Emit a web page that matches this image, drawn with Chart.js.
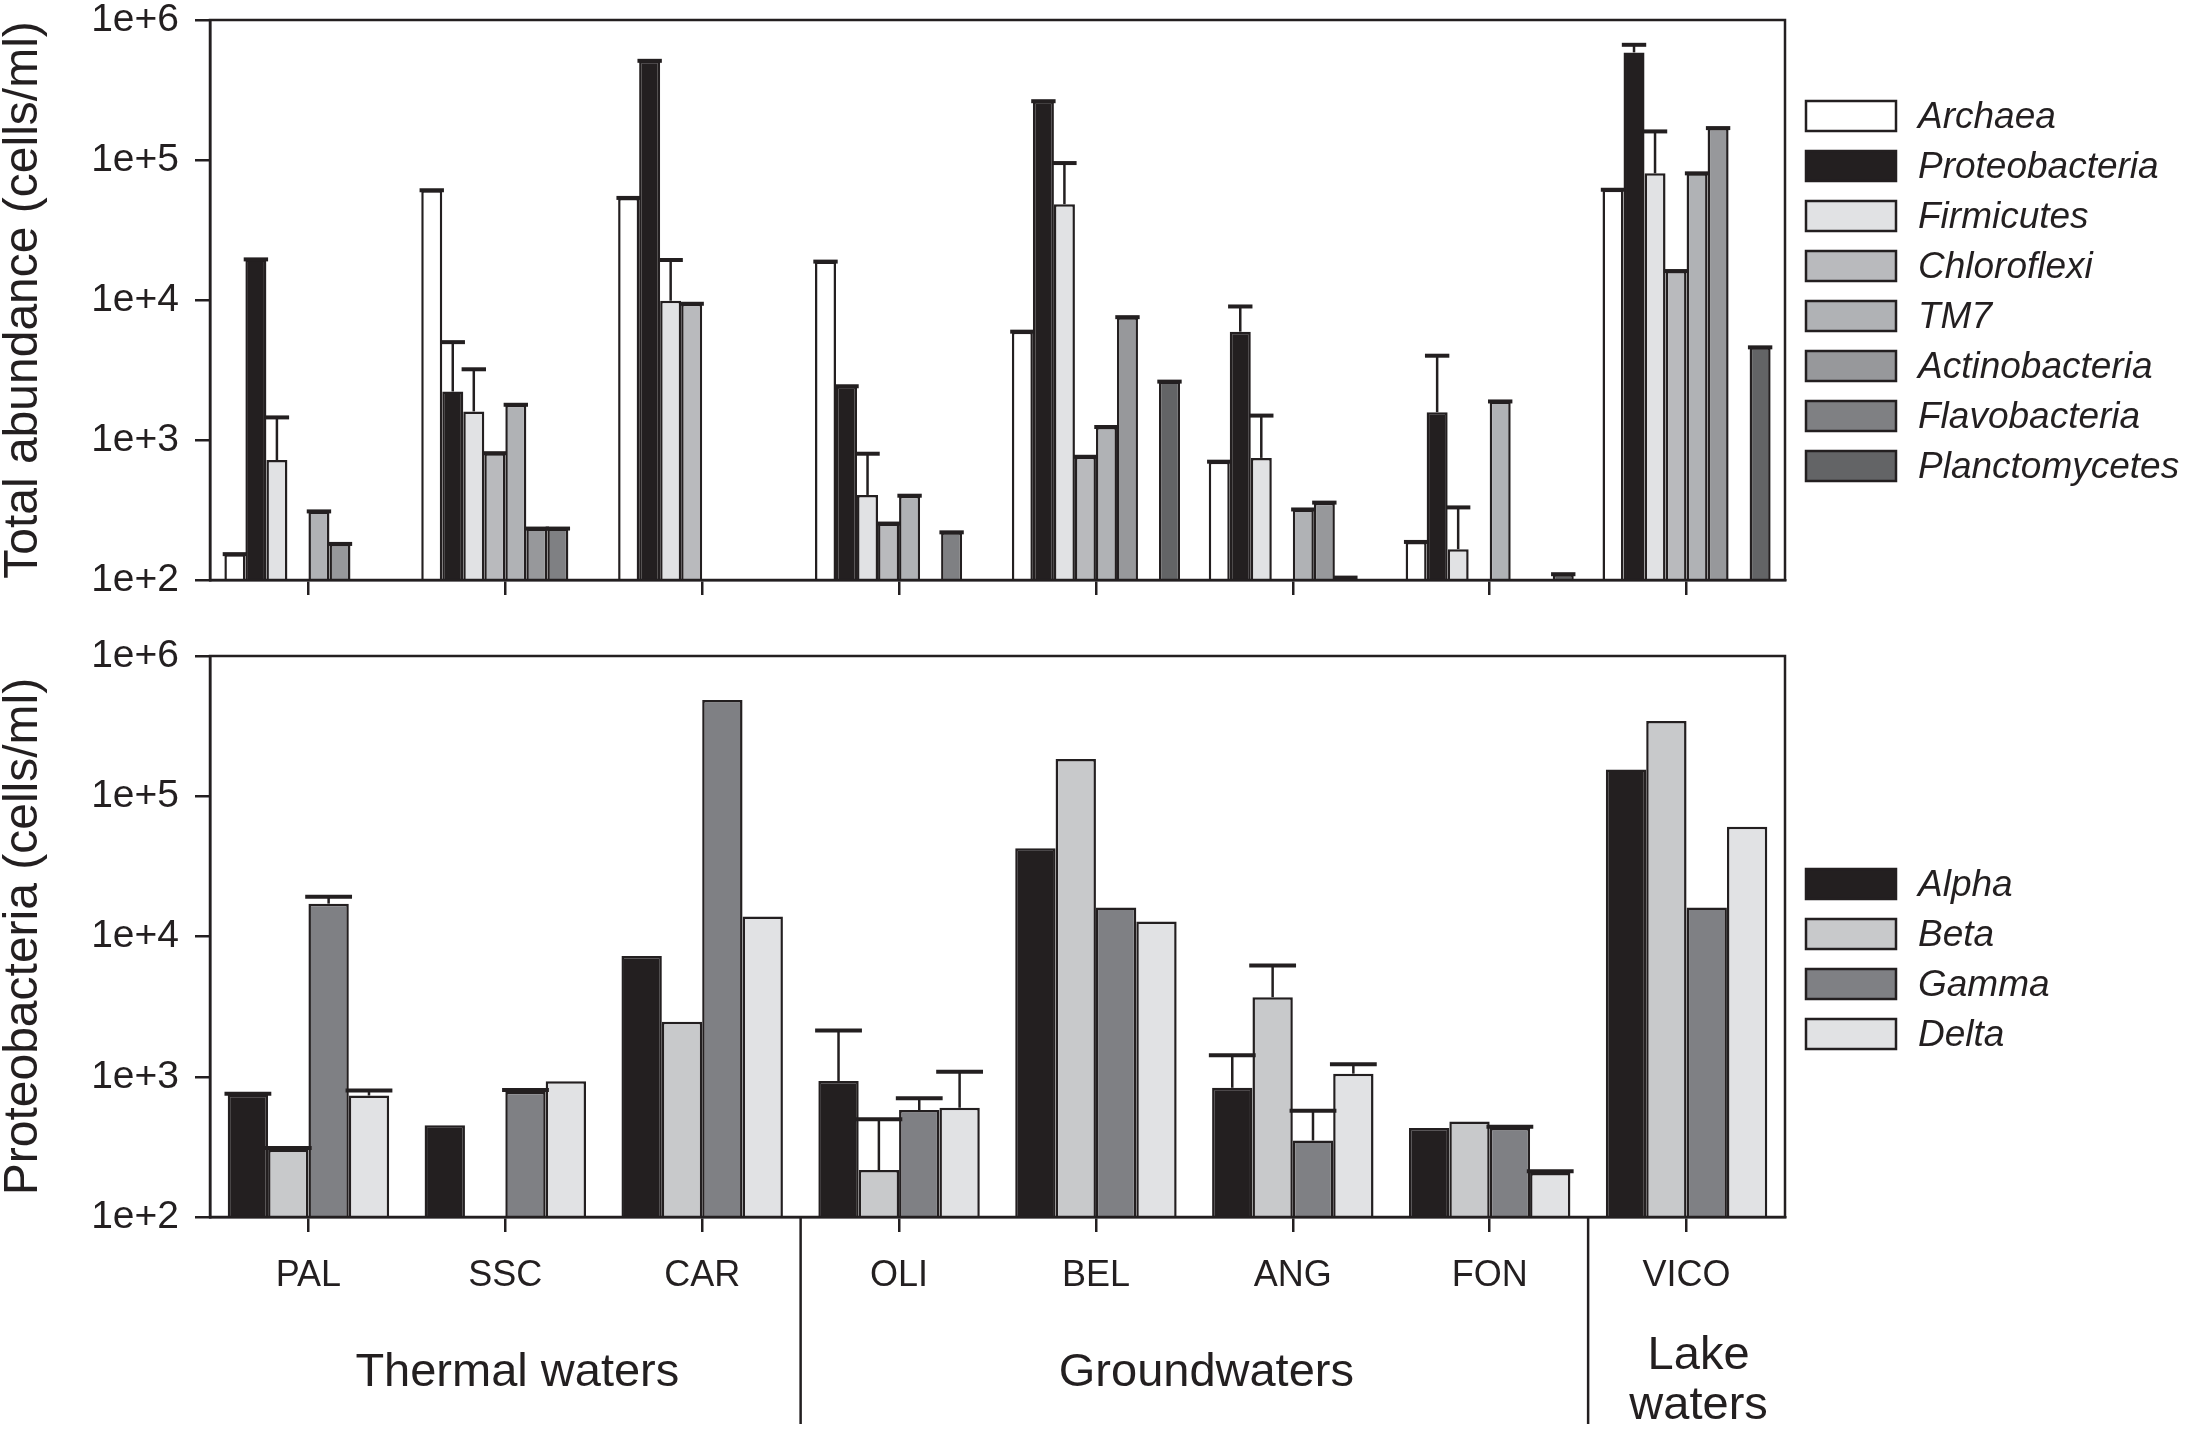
<!DOCTYPE html>
<html lang="en">
<head>
<meta charset="UTF-8">
<title>Total abundance and Proteobacteria by site</title>
<script src="https://cdn.jsdelivr.net/npm/chart.js"></script>
<style>
  body { margin: 0; background: #fff; }
  #wrap { position: relative; width: 2200px; height: 1429px; overflow: hidden; }
  #topChart { position: absolute; left: 0; top: -40px; }
  #bottomChart { position: absolute; left: 0; top: 600px; }
</style>
</head>
<body>
<div id="wrap">
  <canvas id="topChart" width="2200" height="660"></canvas>
  <canvas id="bottomChart" width="2200" height="829"></canvas>
</div>

<script>
// sites
const sites = ['PAL', 'SSC', 'CAR', 'OLI', 'BEL', 'ANG', 'FON', 'VICO'];

// groups of sites under the lower axis
const groupNames = [['Thermal waters'], ['Groundwaters'], ['Lake', 'waters']];
const groupFirst = [0, 3, 7];
const groupLast = [2, 6, 7];

const yTicks = [1e2, 1e3, 1e4, 1e5, 1e6];

// top panel: total abundance (cells/ml), null = not detected
const archaea        = [153, 60800, 53600, 18800, 5940, 700, 187, 61300];
const proteobacteria = [19500, 2220, 511000, 2420, 263000, 5940, 1580, 587000];
const firmicutes     = [720, 1600, 9880, 405, 48300, 745, 166, 80300];
const chloroflexi    = [null, 805, 9400, 253, 759, null, null, 16100];
const tm7            = [309, 1785, null, 400, 1238, 319, 1885, 80300];
const actinobacteria = [181, 233, null, null, 7540, 357, null, 169000];
const flavobacteria  = [null, 233, null, 219, null, 104, null, null];
const planctomycetes = [null, null, null, null, 2612, null, 110, 4590];

// top of the error bars (mean + sd)
const proteoErr = [19500, 5000, 511000, 2420, 263000, 8990, 4000, 665000];
const firmErr   = [1450, 3200, 19300, 798, 95100, 1494, 330, 160000];

// bottom panel: Proteobacteria classes (cells/ml)
const alpha = [745, 451, 7260, 933, 42600, 834, 431, 155000];
const beta  = [302, null, 2470, 216, 184000, 3690, 480, 344000];
const gamma = [17150, 783, 486000, 579, 16100, 351, 431, 16100];
const delta = [735, 927, 13860, 601, 12800, 1052, 206, 60500];

const alphaErr = [755, null, null, 2136, null, 1421, null, null];
const betaErr  = [310, null, null, 498, null, 6210, null, null];
const gammaErr = [19200, 806, null, 704, null, 572, 440, null];
const deltaErr = [797, null, null, 1085, null, 1230, 212, null];

const INK = '#231f20';
Chart.defaults.font.family = "'Liberation Sans', Arial, sans-serif";
Chart.defaults.color = INK;

// error bars: stem from bar top to err value, plus a cap
const errorBars = {
  id: 'errorBars',
  afterDatasetsDraw(chart) {
    const ctx = chart.ctx;
    const y = chart.scales.y;
    ctx.save();
    ctx.strokeStyle = INK;
    chart.data.datasets.forEach((ds, i) => {
      if (!ds.errorBars) return;
      chart.getDatasetMeta(i).data.forEach((bar, j) => {
        const e = ds.errorBars[j];
        if (e == null || ds.data[j] == null) return;
        const ye = y.getPixelForValue(e);
        ctx.lineWidth = 2.5;
        ctx.beginPath();
        ctx.moveTo(bar.x, bar.y);
        ctx.lineTo(bar.x, ye);
        ctx.stroke();
        ctx.lineWidth = 4;
        ctx.beginPath();
        ctx.moveTo(bar.x - bar.width * 0.58, ye);
        ctx.lineTo(bar.x + bar.width * 0.58, ye);
        ctx.stroke();
      });
    });
    ctx.restore();
  }
};

// closed frame round the plot area
const frame = {
  id: 'frame',
  afterDraw(chart) {
    const a = chart.chartArea;
    const ctx = chart.ctx;
    ctx.save();
    ctx.strokeStyle = INK;
    ctx.lineWidth = 2.5;
    ctx.strokeRect(a.left, a.top, a.right - a.left, a.bottom - a.top);
    ctx.restore();
  }
};

// legend at the right, one row per dataset
const sideLegend = {
  id: 'sideLegend',
  afterDraw(chart, args, opts) {
    const ctx = chart.ctx;
    ctx.save();
    ctx.font = 'italic 37px ' + Chart.defaults.font.family;
    ctx.textBaseline = 'middle';
    chart.data.datasets.forEach((ds, i) => {
      const cy = opts.y + i * opts.gap;
      ctx.fillStyle = ds.backgroundColor;
      ctx.fillRect(opts.x, cy - 15, 90, 30);
      ctx.strokeStyle = INK;
      ctx.lineWidth = 2.5;
      ctx.strokeRect(opts.x, cy - 15, 90, 30);
      ctx.fillStyle = INK;
      ctx.fillText(ds.label, opts.x + 112, cy + 2);
    });
    ctx.restore();
  }
};

// separators and group names below the lower axis
const groupLabels = {
  id: 'groupLabels',
  afterDraw(chart) {
    const ctx = chart.ctx;
    const x = chart.scales.x;
    const base = chart.chartArea.bottom;
    ctx.save();
    ctx.strokeStyle = INK;
    ctx.lineWidth = 2.5;
    ctx.fillStyle = INK;
    ctx.font = '47px ' + Chart.defaults.font.family;
    ctx.textAlign = 'center';
    ctx.textBaseline = 'middle';
    groupNames.forEach((lines, g) => {
      if (g > 0) {
        const sx = (x.getPixelForValue(groupFirst[g]) + x.getPixelForValue(groupLast[g - 1])) / 2;
        ctx.beginPath();
        ctx.moveTo(sx, base);
        ctx.lineTo(sx, base + 207);
        ctx.stroke();
      }
      const cx = (x.getPixelForValue(groupFirst[g]) + x.getPixelForValue(groupLast[g])) / 2 + 12;
      const cy = lines.length === 1 ? base + 156 : base + 139;
      lines.forEach((t, k) => ctx.fillText(t, cx, cy + k * 50));
    });
    ctx.restore();
  }
};

function yScale(title) {
  return {
    type: 'logarithmic',
    min: 100,
    max: 1e6,
    afterBuildTicks: s => { s.ticks = yTicks.map(v => ({ value: v, major: true })); },
    afterFit: s => { s.width = 210; },
    ticks: {
      autoSkip: false,
      padding: 16,
      font: { size: 39 },
      callback: v => '1e+' + Math.round(Math.log10(v))
    },
    grid: { drawOnChartArea: false, drawTicks: true, tickLength: 15, color: INK, lineWidth: 2.5 },
    border: { display: true, color: INK, width: 2.5 },
    title: {
      display: true,
      text: title,
      font: { size: 48, lineHeight: 1 },
      padding: { top: 0, bottom: 0 }
    }
  };
}

function xScale(showLabels, height) {
  return {
    type: 'category',
    offset: true,
    afterFit: s => { s.height = height; },
    ticks: { display: showLabels, padding: 22, font: { size: 36 }, autoSkip: false, maxRotation: 0 },
    grid: { offset: false, drawOnChartArea: false, drawTicks: true, tickLength: 15, color: INK, lineWidth: 2.5 },
    border: { display: true, color: INK, width: 2.5 }
  };
}

function bars(label, data, color, err) {
  return {
    label: label,
    data: data,
    errorBars: err,
    backgroundColor: color,
    borderColor: INK,
    borderWidth: 2.5
  };
}

new Chart(document.getElementById('topChart'), {
  type: 'bar',
  data: {
    labels: sites,
    datasets: [
      bars('Archaea', archaea, '#ffffff', archaea),
      bars('Proteobacteria', proteobacteria, '#231f20', proteoErr),
      bars('Firmicutes', firmicutes, '#e1e2e4', firmErr),
      bars('Chloroflexi', chloroflexi, '#b9babd', chloroflexi),
      bars('TM7', tm7, '#b0b2b5', tm7),
      bars('Actinobacteria', actinobacteria, '#97989b', actinobacteria),
      bars('Flavobacteria', flavobacteria, '#7f8083', flavobacteria),
      bars('Planctomycetes', planctomycetes, '#636466', planctomycetes)
    ]
  },
  options: {
    responsive: false,
    animation: false,
    datasets: { bar: { barPercentage: 1, categoryPercentage: 0.854 } },
    layout: { padding: { left: 0, right: 415, top: 60, bottom: 0 } },
    scales: { x: xScale(false, 40), y: yScale('Total abundance (cells/ml)') },
    plugins: {
      legend: { display: false },
      tooltip: { enabled: false },
      sideLegend: { x: 1806, y: 156, gap: 50 }
    }
  },
  plugins: [errorBars, frame, sideLegend]
});

new Chart(document.getElementById('bottomChart'), {
  type: 'bar',
  data: {
    labels: sites,
    datasets: [
      bars('Alpha', alpha, '#231f20', alphaErr),
      bars('Beta', beta, '#c8c9cb', betaErr),
      bars('Gamma', gamma, '#7f8084', gammaErr),
      bars('Delta', delta, '#e1e2e4', deltaErr)
    ]
  },
  options: {
    responsive: false,
    animation: false,
    datasets: { bar: { barPercentage: 1, categoryPercentage: 0.82 } },
    layout: { padding: { left: 0, right: 415, top: 56, bottom: 0 } },
    scales: { x: xScale(true, 212), y: yScale('Proteobacteria (cells/ml)') },
    plugins: {
      legend: { display: false },
      tooltip: { enabled: false },
      sideLegend: { x: 1806, y: 284, gap: 50 }
    }
  },
  plugins: [errorBars, frame, sideLegend, groupLabels]
});
</script>
</body>
</html>
